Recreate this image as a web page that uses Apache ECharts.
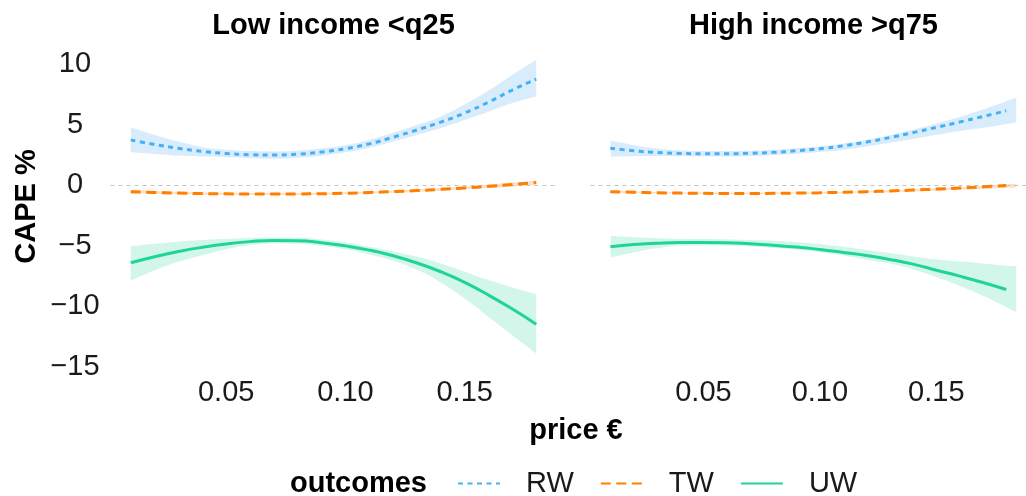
<!DOCTYPE html>
<html><head><meta charset="utf-8">
<script src="https://cdn.jsdelivr.net/npm/echarts@6/dist/echarts.min.js"></script>
<style>html,body{margin:0;padding:0;background:#fff}#c{width:1026px;height:496px}</style>
</head><body><div id="c"></div>
<script>
// ---- data ----
const price = [0.01,0.02,0.03,0.04,0.05,0.06,0.07,0.08,0.09,0.10,0.11,0.12,0.13,0.14,0.15,0.16,0.17,0.18];
const panelTitles = ['Low income <q25', 'High income >q75'];
const outcomes = ['RW', 'TW', 'UW'];
const xTicks = [0.05, 0.10, 0.15];
const xTickLabels = ['0.05', '0.10', '0.15'];
const yTicks = [-15, -10, -5, 0, 5, 10];
const yTickLabels = ['\u221215', '\u221210', '\u22125', '0', '5', '10'];

// Low income <q25
const lowRW      = [3.72,3.35,3.03,2.78,2.6,2.5,2.47,2.55,2.72,3.0,3.4,3.95,4.55,5.2,5.95,6.85,7.85,8.75];
const lowRWUpper = [4.78,4.14,3.6,3.15,2.92,2.8,2.77,2.85,3.02,3.3,3.72,4.31,4.95,5.67,6.65,7.8,9.1,10.35];
const lowRWLower = [2.7,2.57,2.43,2.35,2.3,2.22,2.17,2.25,2.42,2.7,3.08,3.59,4.15,4.72,5.38,6.05,6.77,7.31];
const lowTW      = [-0.55,-0.62,-0.67,-0.71,-0.73,-0.75,-0.75,-0.74,-0.72,-0.68,-0.62,-0.55,-0.46,-0.36,-0.24,-0.11,0.04,0.2];
const lowTWUpper = [-0.4,-0.5,-0.57,-0.62,-0.65,-0.67,-0.67,-0.66,-0.64,-0.6,-0.54,-0.46,-0.36,-0.25,-0.12,0.03,0.2,0.38];
const lowTWLower = [-0.7,-0.74,-0.77,-0.8,-0.81,-0.83,-0.83,-0.82,-0.8,-0.76,-0.7,-0.64,-0.56,-0.47,-0.36,-0.25,-0.12,0.02];
const lowUW      = [-6.43,-5.93,-5.5,-5.15,-4.87,-4.68,-4.58,-4.6,-4.77,-5.03,-5.38,-5.85,-6.45,-7.17,-8.05,-9.1,-10.25,-11.5];
const lowUWUpper = [-5.05,-4.85,-4.68,-4.55,-4.45,-4.38,-4.33,-4.35,-4.5,-4.75,-5.1,-5.49,-5.93,-6.48,-7.17,-7.86,-8.47,-9.02];
const lowUWLower = [-7.92,-7.05,-6.35,-5.8,-5.3,-4.98,-4.83,-4.85,-5.02,-5.32,-5.75,-6.26,-7.0,-8.05,-9.38,-10.9,-12.42,-13.93];

// High income >q75
const highRW      = [3.04,2.83,2.69,2.61,2.58,2.58,2.62,2.7,2.83,3.0,3.24,3.55,3.92,4.33,4.76,5.2,5.66,6.13];
const highRWUpper = [3.67,3.28,2.99,2.85,2.8,2.8,2.84,2.92,3.05,3.24,3.5,3.83,4.25,4.73,5.26,5.85,6.5,7.23];
const highRWLower = [2.34,2.38,2.39,2.37,2.36,2.36,2.4,2.48,2.61,2.76,2.98,3.27,3.59,3.93,4.26,4.56,4.84,5.16];
const highTW      = [-0.55,-0.6,-0.64,-0.67,-0.69,-0.7,-0.7,-0.69,-0.67,-0.64,-0.6,-0.55,-0.49,-0.42,-0.34,-0.25,-0.15,-0.05];
const highTWUpper = [-0.43,-0.51,-0.57,-0.61,-0.63,-0.64,-0.64,-0.63,-0.61,-0.58,-0.54,-0.48,-0.41,-0.33,-0.24,-0.14,-0.02,0.1];
const highTWLower = [-0.67,-0.69,-0.71,-0.73,-0.75,-0.76,-0.76,-0.75,-0.73,-0.7,-0.66,-0.62,-0.57,-0.51,-0.44,-0.36,-0.28,-0.2];
const highUW      = [-5.1,-4.92,-4.82,-4.76,-4.75,-4.77,-4.86,-4.98,-5.13,-5.33,-5.57,-5.82,-6.15,-6.54,-7.04,-7.53,-8.06,-8.64];
const highUWUpper = [-4.22,-4.32,-4.4,-4.45,-4.47,-4.5,-4.55,-4.63,-4.76,-4.93,-5.16,-5.44,-5.71,-5.99,-6.21,-6.37,-6.57,-6.71];
const highUWLower = [-5.99,-5.55,-5.2,-5.02,-5.0,-5.03,-5.1,-5.22,-5.38,-5.63,-5.9,-6.26,-6.62,-7.17,-7.86,-8.64,-9.52,-10.51];

// ---- styles ----
const FONT = "'Liberation Sans', Arial, Helvetica, sans-serif";
const FS = 29;
const lineColors = { RW: '#45b0f5', TW: '#ff7f00', UW: '#1fd497' };
const bandColors = { RW: 'rgba(60,160,240,0.2)', TW: 'rgba(255,127,0,0.25)', UW: 'rgba(30,210,150,0.2)' };
const dashes = { RW: [5, 4.5], TW: [10, 5.5], UW: 'solid' };

const panelData = [
  { RW: [lowRW, lowRWLower, lowRWUpper], TW: [lowTW, lowTWLower, lowTWUpper], UW: [lowUW, lowUWLower, lowUWUpper] },
  { RW: [highRW, highRWLower, highRWUpper], TW: [highTW, highTWLower, highTWUpper], UW: [highUW, highUWLower, highUWUpper] }
];

// panel geometry (value-axis panels span the expanded range; band panels span the data range exactly)
const xMin = 0.0015, xMax = 0.1885;
const gridTop = 64, gridH = 302.5, gridW = 446;
const panelLeft = [110.5, 590.5];
const pxPerUnit = gridW / (xMax - xMin);
const grids = [];
panelLeft.forEach(l => grids.push({ left: l, top: gridTop, width: gridW, height: gridH }));
panelLeft.forEach(l => grids.push({
  left: l + (price[0] - xMin) * pxPerUnit, top: gridTop,
  width: (price[price.length - 1] - price[0]) * pxPerUnit, height: gridH
}));

function pairs(xs, ys) { return xs.map((x, i) => [x, ys[i]]); }
function xLab(v) {
  const i = xTicks.findIndex(t => Math.abs(t - v) < 1e-9);
  return i >= 0 ? xTickLabels[i] : '';
}
function yLab(v) {
  const i = yTicks.findIndex(t => Math.abs(t - v) < 1e-9);
  return i >= 0 ? yTickLabels[i] : '';
}

const xAxes = [0, 1].map(p => ({
  type: 'value', gridIndex: p, min: xMin, max: xMax,
  axisLine: { show: false }, axisTick: { show: false }, splitLine: { show: false },
  axisLabel: { customValues: xTicks, formatter: xLab, color: '#1a1a1a', fontFamily: FONT, fontSize: FS, margin: 12 }
})).concat([0, 1].map(p => ({
  type: 'category', gridIndex: p + 2, data: price.map(String), boundaryGap: false, show: false
})));
const yAxes = [0, 1].map(p => ({
  type: 'value', gridIndex: p, min: -15, max: 10, interval: 5,
  axisLine: { show: false }, axisTick: { show: false }, splitLine: { show: false },
  axisLabel: { show: p === 0, formatter: yLab, color: '#1a1a1a', fontFamily: FONT, fontSize: FS, align: 'center', margin: 35.5 }
})).concat([0, 1].map(p => ({
  type: 'value', gridIndex: p + 2, min: -15, max: 10, interval: 5, show: false, splitLine: { show: false }
})));

const series = [];
panelData.forEach((pd, p) => {
  outcomes.forEach(o => {
    const [mid, lo, hi] = pd[o];
    const stackId = 'band' + p + o;
    series.push({
      type: 'line', name: o + '_lo', xAxisIndex: p + 2, yAxisIndex: p + 2,
      data: lo.slice(), stack: stackId, stackStrategy: 'all',
      smooth: true, symbol: 'none', lineStyle: { opacity: 0 }, silent: true, z: 1, clip: false
    });
    series.push({
      type: 'line', name: o + '_band', xAxisIndex: p + 2, yAxisIndex: p + 2,
      data: hi.map((h, i) => h - lo[i]), stack: stackId, stackStrategy: 'all',
      smooth: true, symbol: 'none', lineStyle: { opacity: 0 },
      areaStyle: { color: bandColors[o], opacity: 1 }, silent: true, z: 1, clip: false
    });
  });
  outcomes.forEach(o => {
    const s = {
      type: 'line', name: o, xAxisIndex: p, yAxisIndex: p,
      data: pairs(price, pd[o][0]), smooth: true, symbol: 'none', clip: false,
      lineStyle: { color: lineColors[o], width: 3, type: dashes[o] },
      itemStyle: { color: lineColors[o] }, z: 3
    };
    if (o === 'RW') {
      s.markLine = {
        silent: true, symbol: 'none', label: { show: false }, z: 2,
        lineStyle: { color: '#c4c4c4', type: [4, 4], width: 1 },
        data: [{ yAxis: 0 }]
      };
    }
    series.push(s);
  });
});

const graphic = [
  { type: 'text', x: 333.5, y: 26, style: { text: panelTitles[0], font: 'bold ' + FS + 'px ' + FONT, fill: '#000', textAlign: 'center', textVerticalAlign: 'middle' } },
  { type: 'text', x: 813.5, y: 26, style: { text: panelTitles[1], font: 'bold ' + FS + 'px ' + FONT, fill: '#000', textAlign: 'center', textVerticalAlign: 'middle' } },
  { type: 'text', x: 27, y: 206.5, rotation: Math.PI / 2, style: { text: 'CAPE %', font: 'bold ' + FS + 'px ' + FONT, fill: '#000', textAlign: 'center', textVerticalAlign: 'middle' } },
  { type: 'text', x: 576, y: 431, style: { text: 'price \u20ac', font: 'bold ' + FS + 'px ' + FONT, fill: '#000', textAlign: 'center', textVerticalAlign: 'middle' } },
  { type: 'text', x: 290, y: 484, style: { text: 'outcomes', font: 'bold ' + FS + 'px ' + FONT, fill: '#000', textAlign: 'left', textVerticalAlign: 'middle' } }
];

const chart = echarts.init(document.getElementById('c'), null, { renderer: 'canvas' });
chart.setOption({
  animation: false,
  backgroundColor: '#fff',
  grid: grids,
  xAxis: xAxes,
  yAxis: yAxes,
  legend: {
    data: outcomes, left: 457, top: 469, padding: 0, itemGap: 26, itemWidth: 42, itemHeight: 14,
    itemStyle: { opacity: 0 },
    textStyle: { fontFamily: FONT, fontSize: FS, color: '#1a1a1a', padding: [0, 0, 0, 21] },
    selectedMode: false
  },
  graphic: graphic,
  series: series
});
</script>
</body></html>
